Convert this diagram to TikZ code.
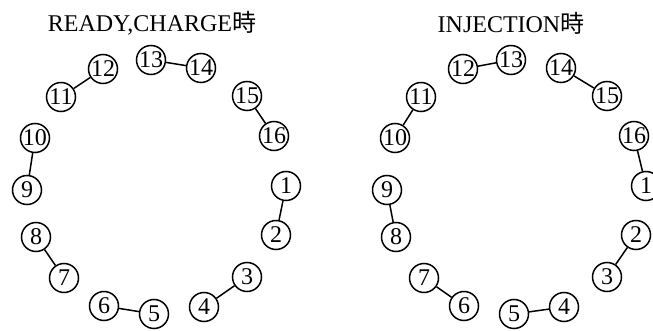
\documentclass[tikz,border=0pt]{standalone}
\usepackage{fontspec}
\setmainfont{Liberation Serif}
\newfontfamily\cjk{Noto Sans CJK JP}
\begin{document}
\begin{tikzpicture}[x=1pt,y=-1pt,
  num/.style={circle,draw,line width=1.5pt,minimum size=29pt,inner sep=0pt,
    font=\fontsize{24}{24}\selectfont},
  link/.style={line width=1.5pt},
  ttl/.style={font=\fontsize{24}{24}\selectfont,inner sep=0pt}]
\useasboundingbox (0,0) rectangle (653,331);
\node[ttl] (t1) at (152,23) {READY,CHARGE{\cjk 時}};
\node[ttl] (t2) at (511,23) {INJECTION{\cjk 時}};
\foreach \n/\x/\y in {1/286/186,2/276/235,3/247/277,4/204/307,5/154/314,6/104/306,
  7/64/278,8/36/237,9/27/190,10/35/138,11/61/97,12/103/69,13/151/60,14/201/68,
  15/247/96,16/274/136}{
  \node[num] (L\n) at (\x,\y) {\n};
  \node[num] (R\n) at ({\x+360},\y) {\n};
}
\foreach \a/\b in {1/2,3/4,5/6,7/8,9/10,11/12,13/14,15/16}
  \draw[link] (L\a) -- (L\b);
\foreach \a/\b in {16/1,2/3,4/5,6/7,8/9,10/11,12/13,14/15}
  \draw[link] (R\a) -- (R\b);
\end{tikzpicture}
\end{document}
